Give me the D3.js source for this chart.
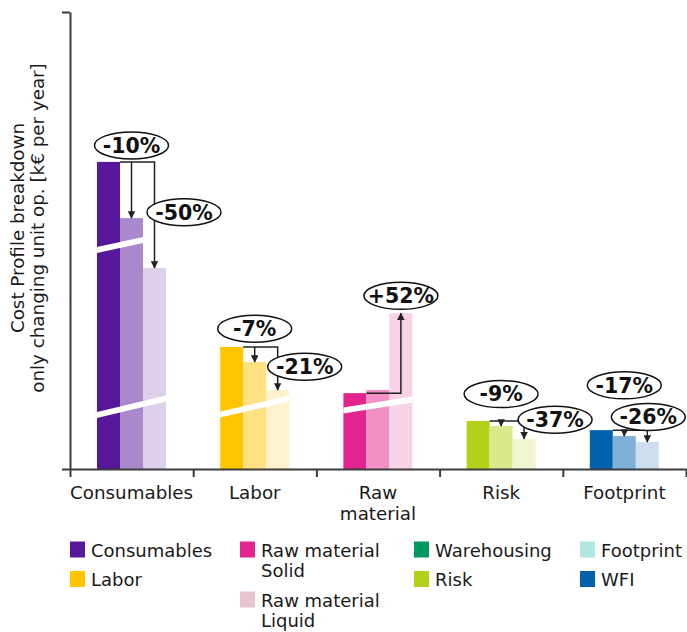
<!DOCTYPE html>
<meta charset='utf-8'>
<head>
    <title>Cost profile</title>
    <script src='https://cdn.jsdelivr.net/npm/d3@7/dist/d3.min.js'></script>
</head>

<style>
    body { margin: 0; background: #fff; }
    text { font-family: 'DejaVu Sans', Verdana, sans-serif; fill: #1a1a1a; }
    .axis path, .axis line { stroke: #3c3c3c; stroke-width: 2px; }
    .link { stroke: #222; stroke-width: 1.5px; fill: none; }
    .bubble ellipse { fill: #fff; stroke: #111; stroke-width: 1.5px; }
    .bubble text { font-weight: bold; font-size: 20.5px; fill: #111; }
</style>

<svg width='687' height='632'></svg>

<script>
    // values (y axis has no ticks, 0..100 = bottom..top of axis)
    var categories = ['Consumables', 'Labor', 'Raw material', 'Risk', 'Footprint'];
    var baseline = [67.2, 26.7, 16.6, 10.5, 8.5];
    var stepOne = [54.9, 23.4, 17.3, 9.4, 7.2];
    var stepTwo = [44.0, 17.3, 34.1, 6.6, 5.9];
    var changeOne = ['-10%', '-7%', null, '-9%', '-17%'];
    var changeTwo = ['-50%', '-21%', '+52%', '-37%', '-26%'];
    var shades = [
        ['#56179a', '#aa88cc', '#ddd0ea'],
        ['#ffc500', '#ffe083', '#fff2cc'],
        ['#e2248f', '#f090c4', '#f8d3e8'],
        ['#b2d21a', '#d9ea8d', '#eff6d2'],
        ['#0061ad', '#7fb0d8', '#cddfee']
    ];

    var legendNames = ['Consumables', 'Labor', 'Raw material|Solid', 'Raw material|Liquid',
        'Warehousing', 'Risk', 'Footprint', 'WFI'];
    var legendColors = ['#56179a', '#ffc500', '#e2248f', '#e6c4d0', '#00995f', '#b2d21a', '#aee8e1', '#0061ad'];
    var legendColumn = [0, 0, 1, 1, 2, 2, 3, 3];

    // axis breaks (value at left edge and right edge of the covered bars)
    var breaks = [
        {cat: 'Consumables', bars: 2, from: 47.9, to: 50.1},
        {cat: 'Consumables', bars: 3, from: 11.8, to: 15.4},
        {cat: 'Labor', bars: 3, from: 11.9, to: 15.4},
        {cat: 'Raw material', bars: 3, from: 12.8, to: 15.2}
    ];
    // where the bubbles sit: px shift from the bar they point to, and height in axis units
    var bubbleOne = [[0, 70.8], [0, 30.7], null, [0, 16.4], [0, 18.3]];
    var bubbleTwo = [[29.5, 56.2], [27, 22.4], [0, 37.9], [31, 10.8], [1, 11.4]];

    var svg = d3.select('svg');

    var x = d3.scaleBand().domain(categories).range([70, 686]);
    var inner = d3.scaleBand().domain([0, 1, 2]).range([27, 96]);
    var y = d3.scaleLinear().domain([0, 100]).range([469, 12]);
    var edge = d3.scaleLinear().domain([0, categories.length]).range(x.range());

    var defs = svg.append('defs');
    defs.append('marker').attr('id', 'head')
        .attr('viewBox', '0 0 10 10').attr('refX', 9).attr('refY', 5)
        .attr('markerWidth', 5).attr('markerHeight', 5).attr('orient', 'auto-start-reverse')
        .append('path').attr('d', 'M0,0 L10,5 L0,10 z').attr('fill', '#222');

    // bars
    var groups = svg.selectAll('g.cat').data(categories).enter().append('g')
        .attr('class', 'cat')
        .attr('transform', function (d) { return 'translate(' + x(d) + ',0)'; });

    groups.selectAll('rect').data(function (d, i) {
        return [baseline[i], stepOne[i], stepTwo[i]].map(function (v, j) {
            return {v: v, j: j, color: shades[i][j]};
        });
    }).enter().append('rect')
        .attr('x', function (d) { return inner(d.j); })
        .attr('width', inner.bandwidth())
        .attr('y', function (d) { return y(d.v); })
        .attr('height', function (d) { return y(0) - y(d.v); })
        .attr('fill', function (d) { return d.color; });

    // break marks
    svg.selectAll('polygon.brk').data(breaks).enter().append('polygon')
        .attr('class', 'brk')
        .attr('fill', '#fff')
        .attr('points', function (d) {
            var xl = x(d.cat) + inner(0);
            var xr = xl + d.bars * inner.bandwidth();
            var yl = y(d.from), yr = y(d.to);
            return [[xl, yl - 3], [xr, yr - 3], [xr, yr + 3], [xl, yl + 3]].join(' ');
        });

    // axes
    svg.append('g').attr('class', 'axis')
        .attr('transform', 'translate(70,0)')
        .call(d3.axisLeft(y).tickValues([0, 100]).tickSize(8).tickSizeOuter(0).tickFormat(''));

    svg.append('g').attr('class', 'axis')
        .attr('transform', 'translate(0,' + y(0) + ')')
        .call(d3.axisBottom(edge).tickValues(d3.range(categories.length + 1)).tickSize(8).tickSizeOuter(0).tickFormat(''));

    var xl = svg.selectAll('text.xl').data(categories).enter().append('text')
        .attr('class', 'xl')
        .attr('text-anchor', 'middle')
        .attr('font-size', 18.3)
        .attr('x', function (d) { return x(d) + x.bandwidth() / 2; })
        .attr('y', 499);
    xl.each(function (d) {
        var words = d === 'Raw material' ? ['Raw', 'material'] : [d];
        var t = d3.select(this);
        words.forEach(function (w, k) {
            t.append('tspan').attr('x', t.attr('x')).attr('dy', k ? 21 : 0).text(w);
        });
    });

    // y title
    var yt = svg.append('text')
        .attr('transform', 'translate(24,228) rotate(-90)')
        .attr('text-anchor', 'middle')
        .attr('font-size', 18.3);
    yt.append('tspan').attr('x', 0).attr('y', 0).text('Cost Profile breakdown');
    yt.append('tspan').attr('x', 0).attr('y', 20).text('only changing unit op. [k\u20ac per year]');

    // change arrows
    categories.forEach(function (c, i) {
        var x0 = x(c);
        var right1 = x0 + inner(0) + inner.bandwidth();
        var mid2 = x0 + inner(1) + inner.bandwidth() / 2;
        var mid3 = x0 + inner(2) + inner.bandwidth() / 2;
        var top = y(baseline[i]);

        svg.append('path').attr('class', 'link')
            .attr('d', 'M' + right1 + ',' + top + 'H' + mid3 + 'V' + y(stepTwo[i]))
            .attr('marker-end', 'url(#head)');
        if (changeOne[i]) {
            svg.append('path').attr('class', 'link')
                .attr('d', 'M' + mid2 + ',' + top + 'V' + y(stepOne[i]))
                .attr('marker-end', 'url(#head)');
        }

        [[changeOne[i], bubbleOne[i], mid2], [changeTwo[i], bubbleTwo[i], mid3]].forEach(function (b) {
            if (!b[0]) return;
            var g = svg.append('g').attr('class', 'bubble')
                .attr('transform', 'translate(' + (b[2] + b[1][0]) + ',' + y(b[1][1]) + ')');
            g.append('ellipse').attr('rx', 37).attr('ry', 13.5);
            g.append('text').attr('text-anchor', 'middle').attr('dy', '0.36em').text(b[0]);
        });
    });

    // legend
    var colX = [70, 240, 414, 580];
    var colY = [541.5, 541.5, 541.5, 541.5];
    legendNames.forEach(function (name, i) {
        var lines = name.split('|');
        var c = legendColumn[i];
        var top = colY[c];
        var g = svg.append('g').attr('transform', 'translate(' + colX[c] + ',' + top + ')');
        g.append('rect').attr('width', 15).attr('height', 16).attr('fill', legendColors[i]);
        var t = g.append('text').attr('font-size', 18).attr('x', 21).attr('y', 15);
        lines.forEach(function (l, k) {
            t.append('tspan').attr('x', 21).attr('dy', k ? 20.5 : 0).text(l);
        });
        colY[c] += lines.length * 20.5 + 9;
    });
</script>
